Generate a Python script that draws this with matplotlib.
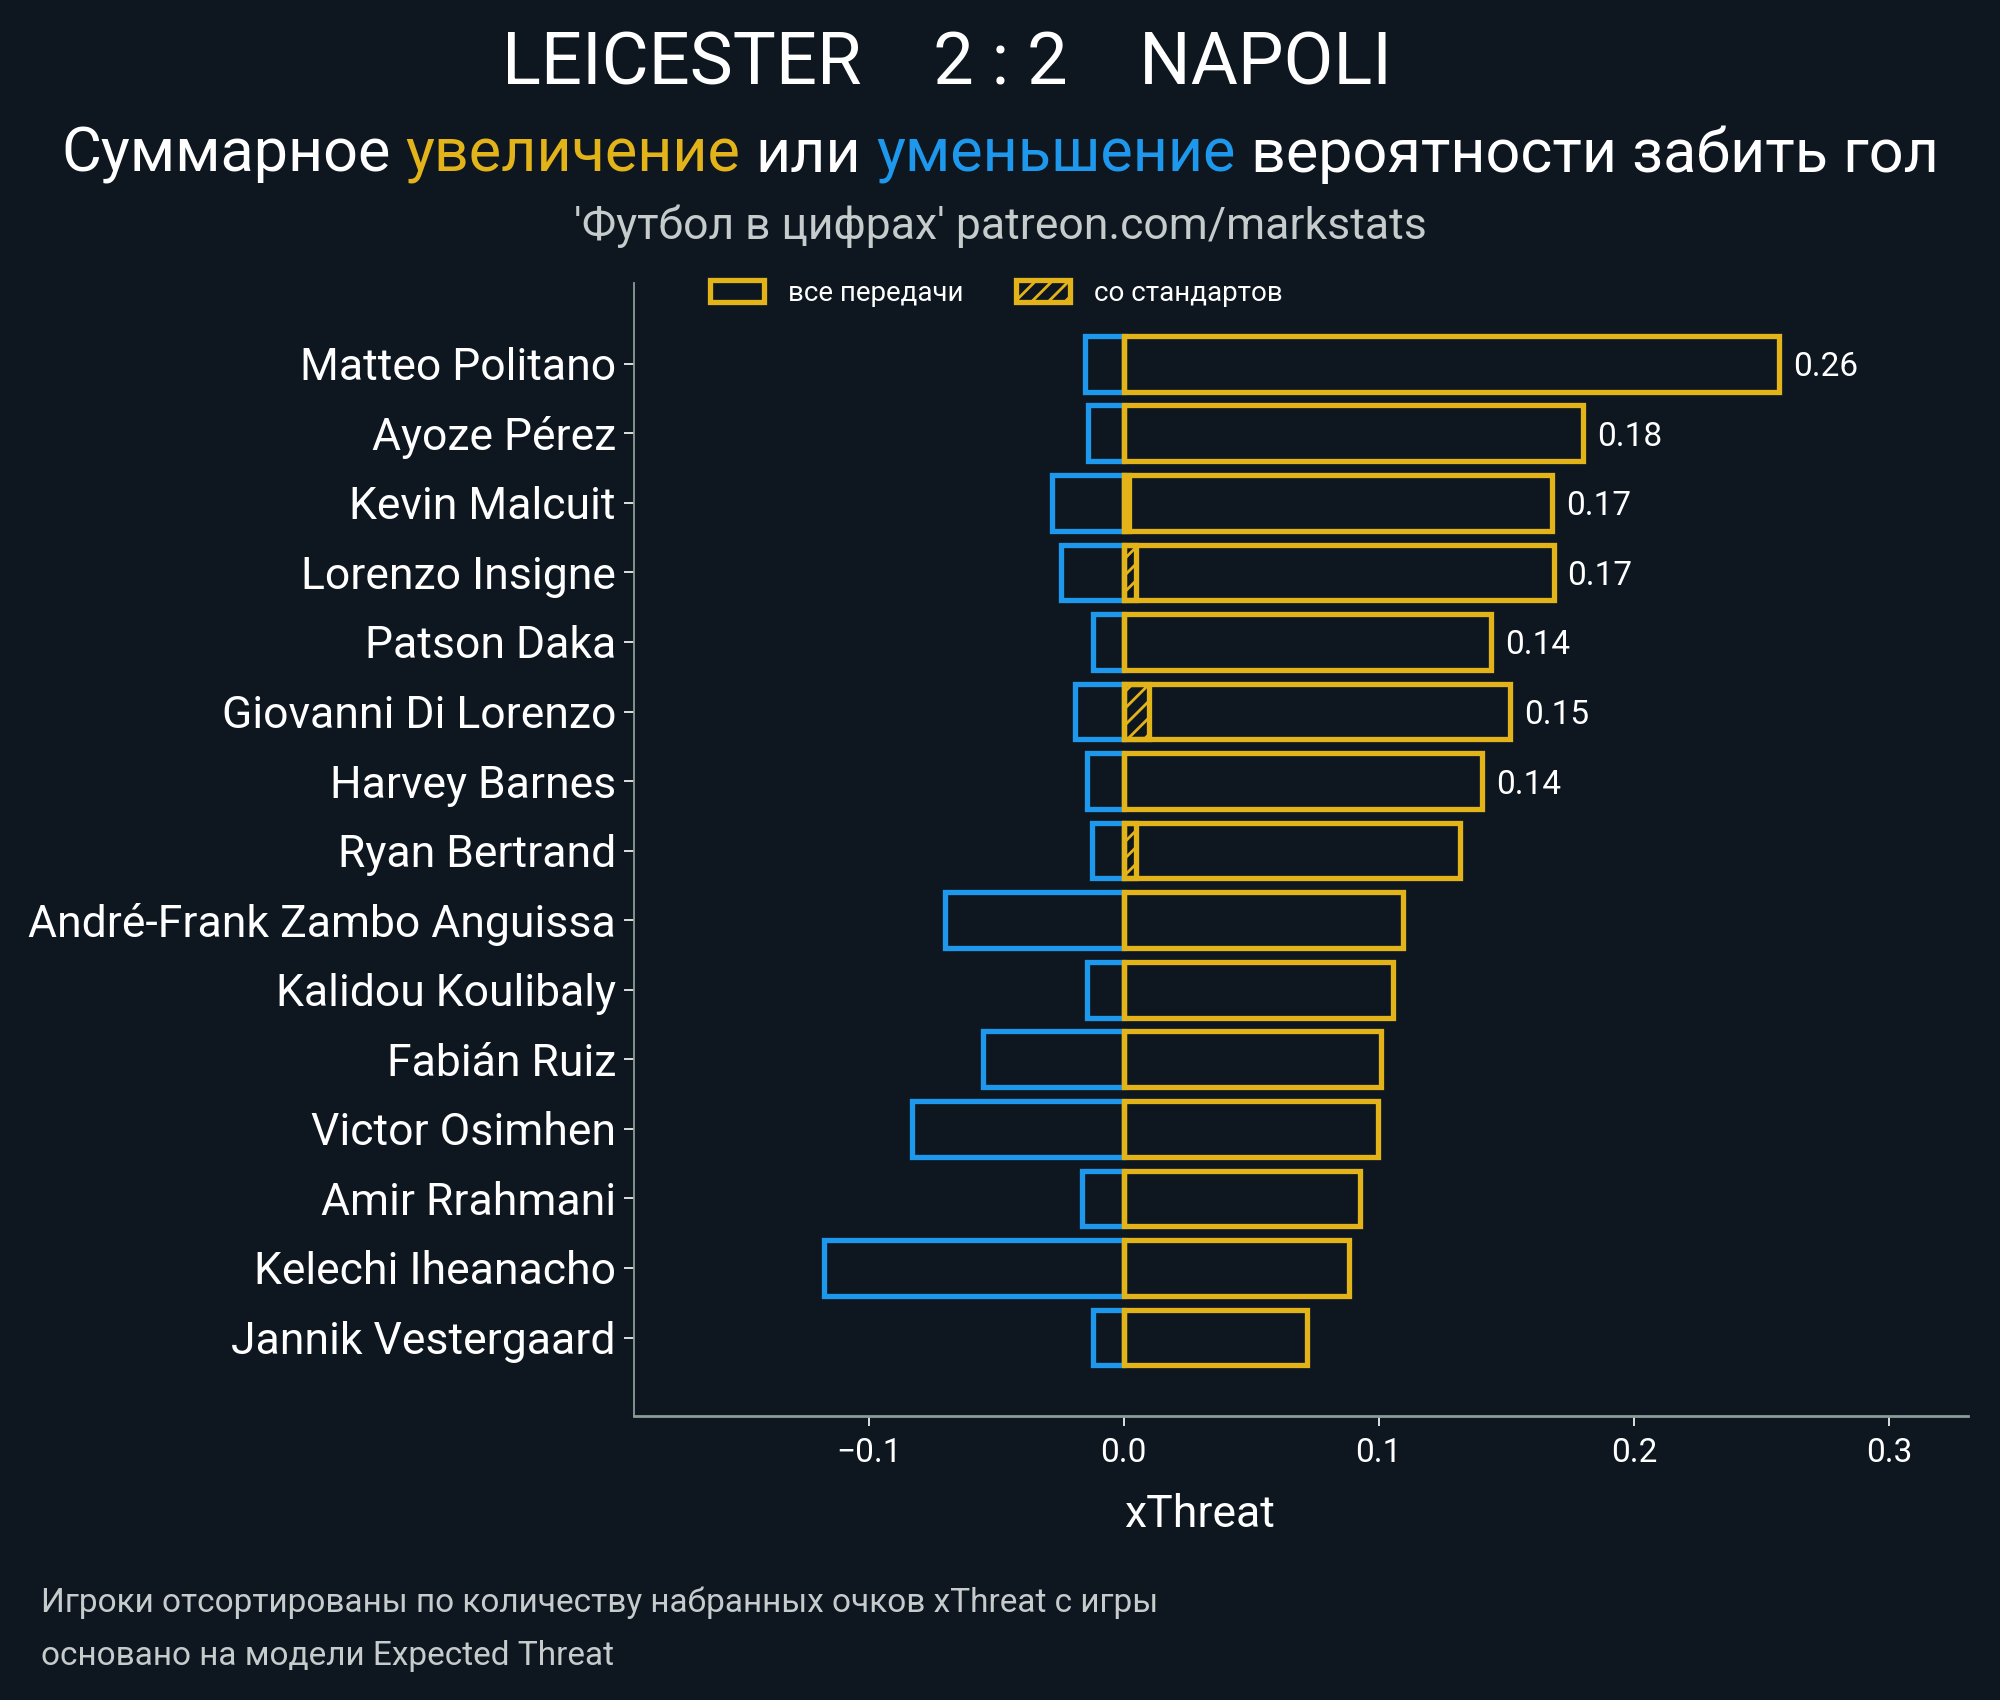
import numpy as np
import matplotlib
matplotlib.use("Agg")
import matplotlib.pyplot as plt
from matplotlib.patches import Patch

plt.rcParams['font.family'] = ['Roboto', 'DejaVu Sans']
plt.rcParams['hatch.linewidth'] = 2.0

# Data
players = ["Matteo Politano", "Ayoze Pérez", "Kevin Malcuit", "Lorenzo Insigne",
           "Patson Daka", "Giovanni Di Lorenzo", "Harvey Barnes", "Ryan Bertrand",
           "André-Frank Zambo Anguissa", "Kalidou Koulibaly", "Fabián Ruiz",
           "Victor Osimhen", "Amir Rrahmani", "Kelechi Iheanacho", "Jannik Vestergaard"]
gains = [0.257, 0.180, 0.168, 0.1685, 0.144, 0.1515, 0.1405, 0.132,
         0.1095, 0.1055, 0.101, 0.0995, 0.0925, 0.0885, 0.072]
losses = [-0.015, -0.014, -0.028, -0.0245, -0.012, -0.019, -0.0145, -0.0125,
          -0.070, -0.0145, -0.055, -0.083, -0.0165, -0.1175, -0.012]
set_pieces = [0.0, 0.0, 0.002, 0.005, 0.0, 0.010, 0.0, 0.005,
              0.0, 0.0, 0.0, 0.0, 0.0, 0.0, 0.0]
xticks = [-0.1, 0.0, 0.1, 0.2, 0.3]

bg = '#0e1720'
yellow = '#e3b31a'
blue = '#1e98ec'
white = '#ffffff'
grey = '#c6cbcc'
spine_c = '#8a9c98'

fig = plt.figure(figsize=(20, 17), dpi=100, facecolor=bg)
ax = fig.add_axes([0.317, 0.167, 0.667, 0.6665])
ax.set_facecolor(bg)

y = np.arange(len(players))
lw = 3.8
ax.barh(y, losses, height=0.8, facecolor=bg, edgecolor=blue, linewidth=lw)
ax.barh(y, gains, height=0.8, facecolor=bg, edgecolor=yellow, linewidth=lw)
ax.barh(y, set_pieces, height=0.8, facecolor='none', edgecolor=yellow,
        linewidth=lw, hatch='//')

# value labels for the top bars
for yi, g in zip(y, gains):
    if g >= 0.14:
        ax.text(g + 0.0055, yi, f"{g:.2f}", color=white, fontsize=24,
                va='center_baseline', ha='left')

ax.set_xlim(-0.192, 0.331)
ax.set_ylim(len(players) - 1 + 1.13, -1.16)
ax.set_yticks(y)
ax.set_yticklabels(players)
ax.set_xticks(xticks)
ax.set_xticklabels([f"{t:.1f}".replace('-', '\u2212') for t in xticks])

ax.tick_params(axis='y', colors=white, labelsize=32, length=7, width=1.2, pad=6)
ax.tick_params(axis='x', colors=white, labelsize=24, length=7, width=1.2, pad=8)
for s in ['top', 'right']:
    ax.spines[s].set_visible(False)
ax.spines['left'].set_color(spine_c)
ax.spines['bottom'].set_color(spine_c)
ax.spines['left'].set_linewidth(1.3)
ax.spines['bottom'].set_linewidth(2)

handles = [Patch(facecolor=bg, edgecolor=yellow, linewidth=lw, label='все передачи'),
           Patch(facecolor=bg, edgecolor=yellow, linewidth=lw, hatch='//',
                 label='со стандартов')]
leg = ax.legend(handles=handles, loc='center left', bbox_to_anchor=(0.057, 0.991),
                ncol=2, frameon=False, fontsize=20, handlelength=1.95,
                handleheight=0.8, handletextpad=0.85, columnspacing=1.9,
                borderpad=0, borderaxespad=0)
for t in leg.get_texts():
    t.set_color(white)

fig.text(0.6, 0.109, "xThreat", color=white, fontsize=32, ha='center', va='center')

# Titles
fig.text(0.4735, 0.962, "LEICESTER    2 : 2    NAPOLI", color=white, fontsize=52,
         ha='center', va='center')

renderer = fig.canvas.get_renderer()
sub_kw = dict(fontsize=44, va='center')


def text_w(s):
    t = fig.text(0, 0, s, **sub_kw)
    w = t.get_window_extent(renderer).width
    t.remove()
    return w


words = [("Суммарное", white), ("увеличение", yellow), ("или", white),
         ("уменьшение", blue), ("вероятности забить гол", white)]
full = " ".join(w for w, _ in words)
fig_w = fig.get_figwidth() * fig.dpi
x0 = fig_w / 2 - text_w(full) / 2
for k, (w, c) in enumerate(words):
    start = x0 + text_w(" ".join(ww for ww, _ in words[:k + 1])) - text_w(w)
    fig.text(start / fig_w, 0.909, w, color=c, ha='left', **sub_kw)

fig.text(0.5, 0.867, "'Футбол в цифрах' patreon.com/markstats", color=grey,
         fontsize=32, ha='center', va='center')

fig.text(0.0205, 0.057, "Игроки отсортированы по количеству набранных очков xThreat с игры",
         color=grey, fontsize=24, ha='left', va='center')
fig.text(0.0205, 0.026, "основано на модели Expected Threat",
         color=grey, fontsize=24, ha='left', va='center')

fig.savefig("out.png", dpi=100, facecolor=bg)
